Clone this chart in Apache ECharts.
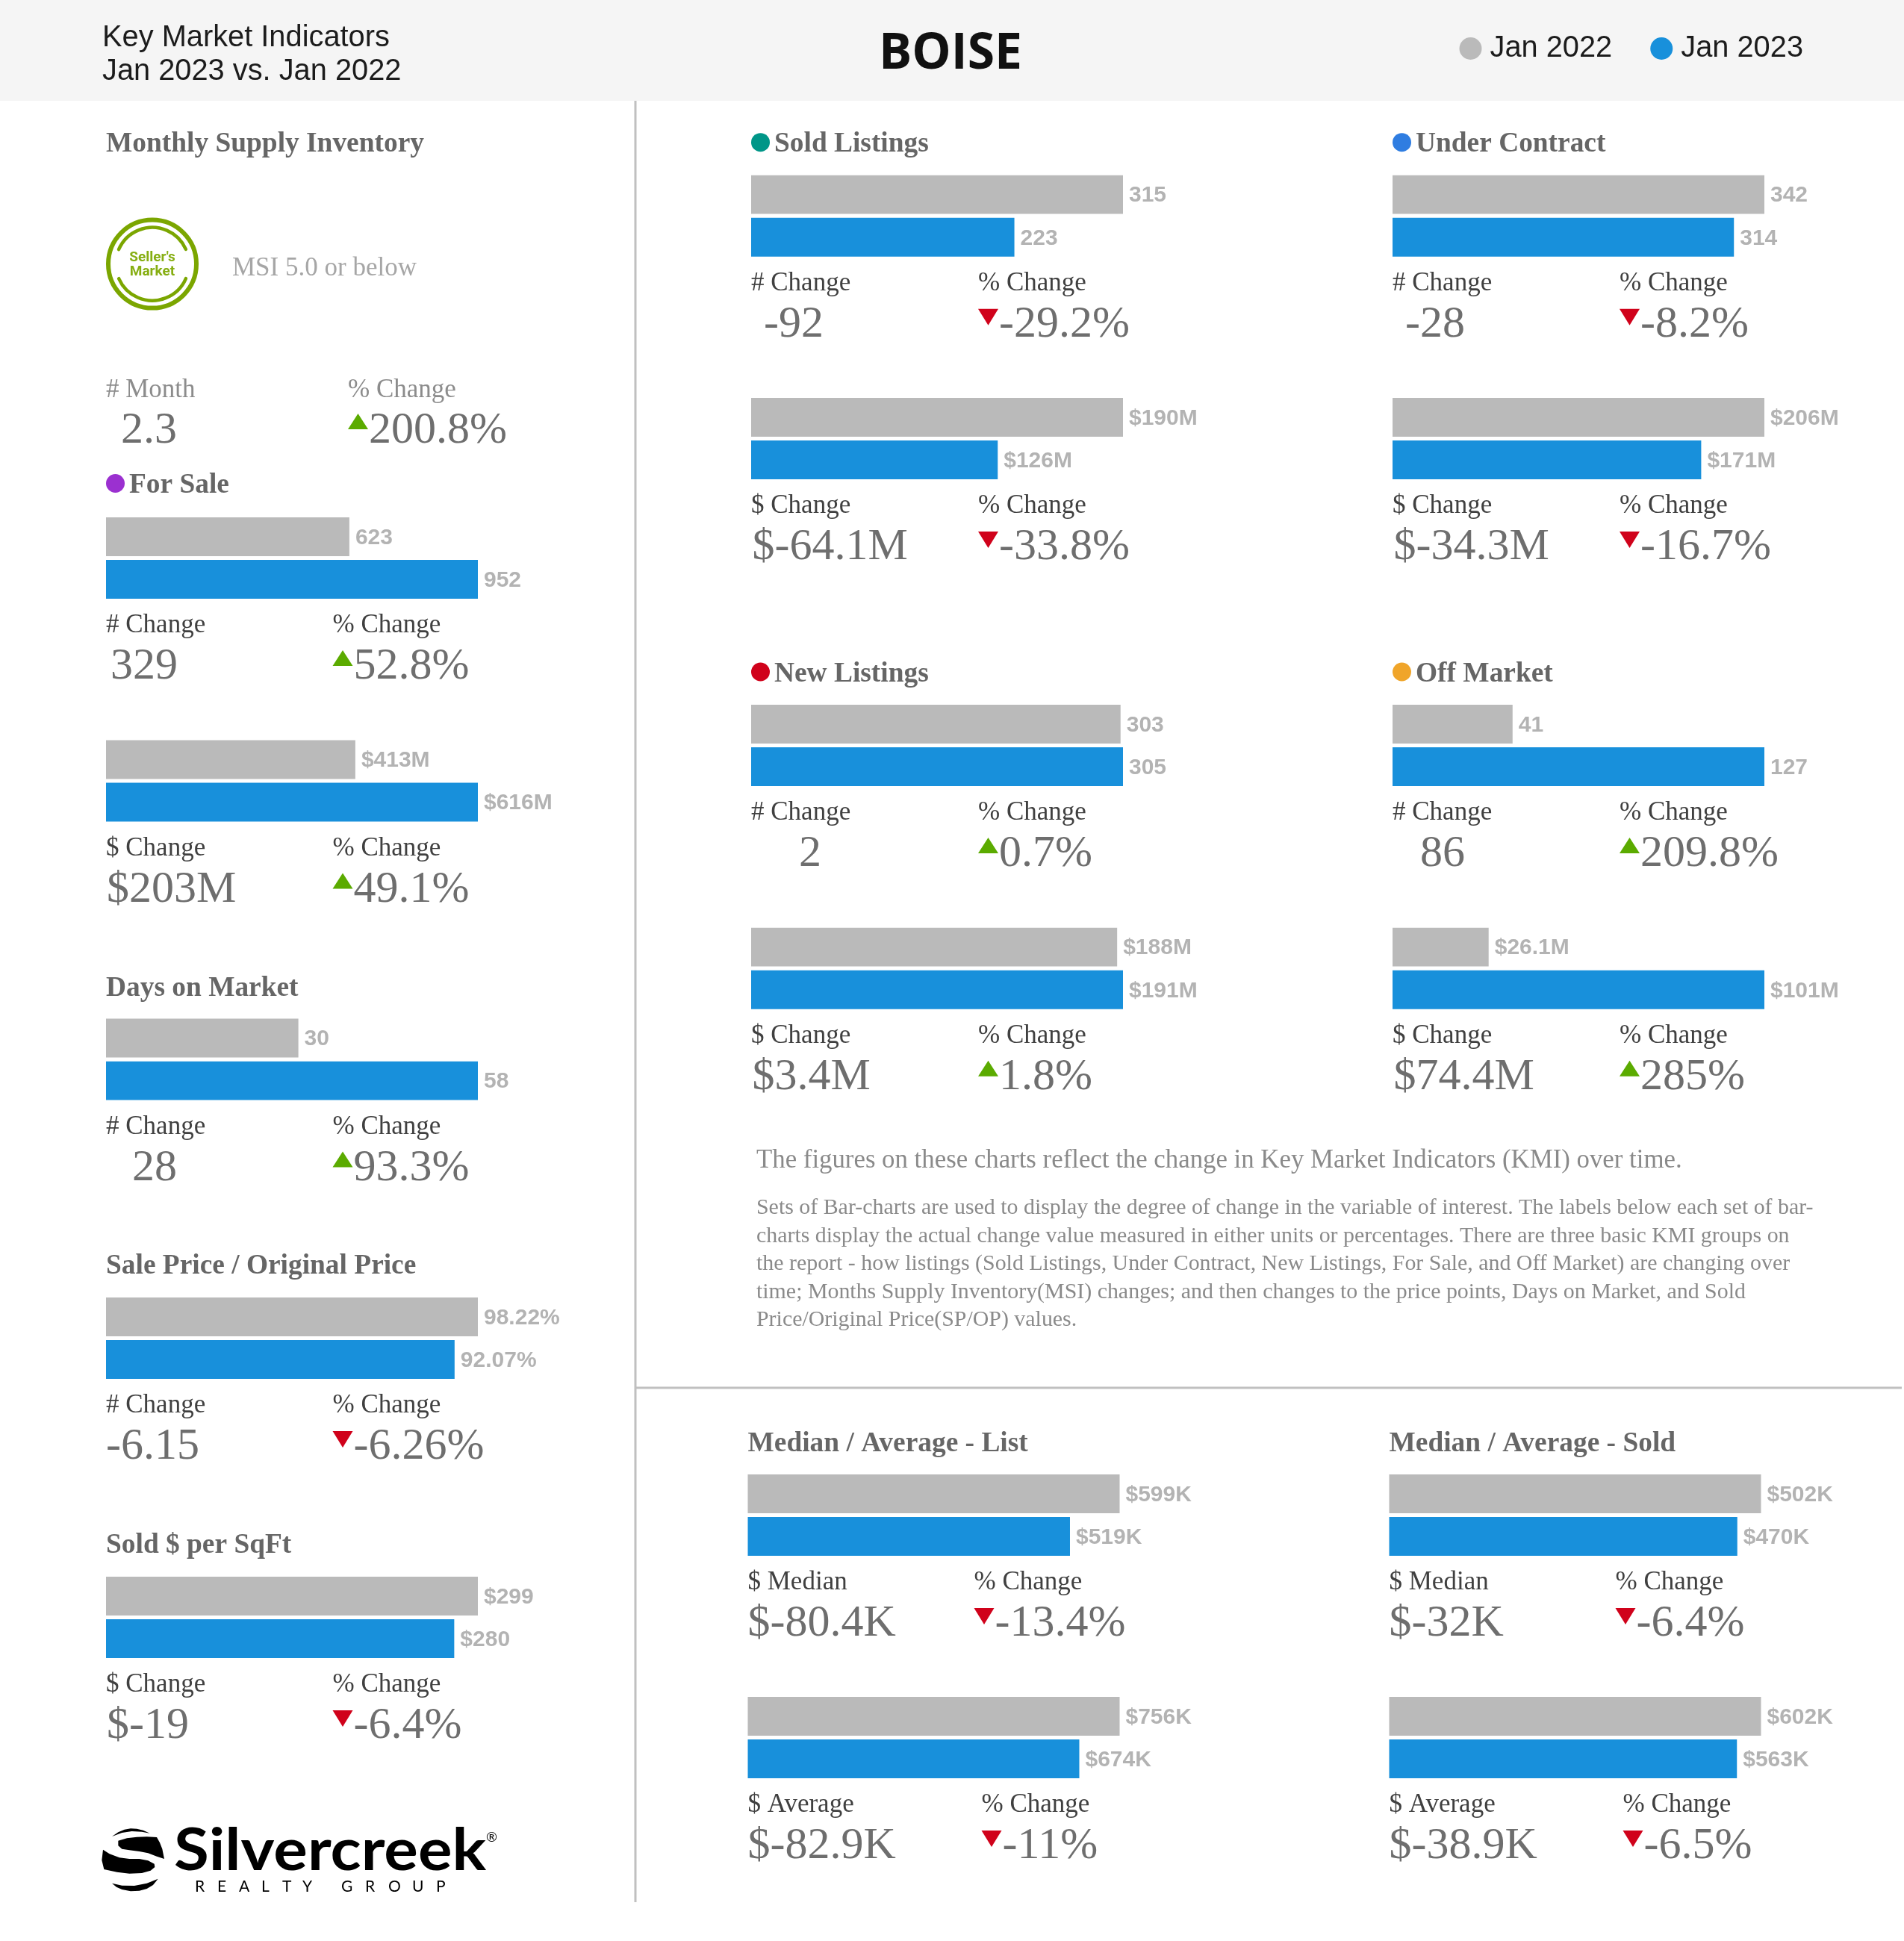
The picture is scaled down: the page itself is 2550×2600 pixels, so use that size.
<!DOCTYPE html>
<html>
<head>
<meta charset="utf-8">
<title>BOISE Key Market Indicators</title>
<script src="https://cdn.jsdelivr.net/npm/echarts@6/dist/echarts.min.js"></script>
<style>html,body{margin:0;padding:0;background:#fff}#c{width:2550px;height:2600px}</style>
</head>
<body>
<div id="c"></div>
<script>
// ---------- data ----------
const years = ['Jan 2022', 'Jan 2023'];
const metricNames = ['For Sale #','For Sale $','Days on Market','Sale Price / Original Price','Sold $ per SqFt','Sold Listings #','Sold Listings $','Under Contract #','Under Contract $','New Listings #','New Listings $','Off Market #','Off Market $','List Median','List Average','Sold Median','Sold Average'];
const jan2022 = [623,413,30,98.22,299,315,190,342,206,303,188,41,26.1,599,756,502,602];
const jan2023 = [952,616,58,92.07,280,223,126,314,171,305,191,127,101,519,674,470,563];
const valuePrefix = ['','$','','','$','','$','','$','','$','','$','$','$','$','$'];
const valueSuffix = ['','M','','%','','','M','','M','','M','','M','K','K','K','K'];
const changeCaptions = ['# Change','$ Change','# Change','# Change','$ Change','# Change','$ Change','# Change','$ Change','# Change','$ Change','# Change','$ Change','$ Median','$ Average','$ Median','$ Average'];
const changeValues = ['329','$203M','28','-6.15','$-19','-92','$-64.1M','-28','$-34.3M','2','$3.4M','86','$74.4M','$-80.4K','$-82.9K','$-32K','$-38.9K'];
const percentValues = ['52.8%','49.1%','93.3%','-6.26%','-6.4%','-29.2%','-33.8%','-8.2%','-16.7%','0.7%','1.8%','209.8%','285%','-13.4%','-11%','-6.4%','-6.5%'];
const headings = ['Sold Listings','Under Contract','New Listings','Off Market','For Sale','Days on Market','Sale Price / Original Price','Sold $ per SqFt','Median / Average - List','Median / Average - Sold','Monthly Supply Inventory'];
const msiMonths = '2.3';
const msiChange = '200.8%';

// ---------- layout (pixels) ----------
const panelX = [142,142,142,142,142,1006,1006,1865,1865,1006,1006,1865,1865,1001.5,1001.5,1860.5,1860.5];
const panelY = [693,991.5,1364.6,1738,2112,234.7,533,234.7,533,944,1242.7,944,1242.7,1975,2273,1975,2273];
const valueIndent = [6,1,35,0,1,17,1.5,17,1.5,64,1.5,37,1.5,0,0,0,0];
const percentOffset = [303.5,303.5,303.5,303.5,303.5,304,304,304,304,304,304,304,304,303,313,303,313];
const headingPos = [
 [1006,190.7,'#009688'],[1865,190.7,'#2f7de1'],[1006,900,'#d0021b'],[1865,900,'#f0a52a'],[142,647.5,'#9b30d0'],
 [142,1321],[142,1693],[142,2067.5],[1001.5,1931.5],[1860.5,1931.5],[142,190.7]
];
const SERIF = '"Liberation Serif"', SANS = '"Liberation Sans"';
const GREY_BAR = '#bababa', BLUE_BAR = '#1890db';
const BAR_W = 498, BAR_H = 109;

const g = [];
function T(text, x, y, size, fill, opt) {
  opt = opt || {};
  g.push({type:'text', silent:true, z:opt.z||5, style:{text, x, y: y+(opt.dy===undefined?3:opt.dy), fill,
    font:(opt.weight||'normal')+' '+size+'px '+(opt.family||SERIF),
    textAlign:opt.align||'left', textVerticalAlign:'middle'}});
}
function tri(x, y, up) {
  const pts = up ? [[x,y+21],[x+27,y+21],[x+13.5,y]] : [[x,y],[x+27,y],[x+13.5,y+22]];
  g.push({type:'polygon', silent:true, z:5, shape:{points:pts}, style:{fill: up ? '#5bab00' : '#d0021b'}});
}
function dot(x, y, r, fill) { g.push({type:'circle', silent:true, z:5, shape:{cx:x,cy:y,r}, style:{fill}}); }

// header band + dividers
g.push({type:'rect', silent:true, z:0, shape:{x:0,y:0,width:2550,height:135}, style:{fill:'#f5f5f5'}});
g.push({type:'rect', silent:true, z:1, shape:{x:849.5,y:135,width:3,height:2413}, style:{fill:'#c0c0c0'}});
g.push({type:'rect', silent:true, z:1, shape:{x:851,y:1857.5,width:1696,height:3}, style:{fill:'#c0c0c0'}});
T('Key Market Indicators',137,48,39.8,'#1c1c1c',{family:SANS});
T('Jan 2023 vs. Jan 2022',137,93,39.8,'#1c1c1c',{family:SANS});
T('BOISE',1273,68,66,'#111111',{family:'"Open Sans"',weight:'bold',align:'center',dy:5});

// headings
headings.forEach((h,i)=>{
  const p = headingPos[i];
  if (p[2]) { dot(p[0]+12.5,p[1],12.5,p[2]); T(h,p[0]+31,p[1],37.4,'#666666',{weight:'bold'}); }
  else T(h,p[0],p[1],37.4,'#666666',{weight:'bold'});
});

// seller's market badge
const BADGE = '#7ba600';
g.push({type:'circle',silent:true,z:5,shape:{cx:204,cy:353.6,r:59},style:{fill:'none',stroke:BADGE,lineWidth:6}});
g.push({type:'arc',silent:true,z:5,shape:{cx:204,cy:353.6,r:49,startAngle:3.55,endAngle:5.87,clockwise:true},style:{fill:'none',stroke:BADGE,lineWidth:4.5,lineCap:'round'}});
g.push({type:'arc',silent:true,z:5,shape:{cx:204,cy:353.6,r:49,startAngle:0.41,endAngle:2.73,clockwise:true},style:{fill:'none',stroke:BADGE,lineWidth:4.5,lineCap:'round'}});
T("Seller's",204,342,19,'#86ae12',{family:'Roboto',weight:'bold',align:'center'});
T('Market',204,361,19,'#86ae12',{family:'Roboto',weight:'bold',align:'center'});
T('MSI 5.0 or below',311,357,35,'#a6a6a6');

// MSI figures
T('# Month',142,519.5,35,'#8c8c8c');
T('% Change',466,519.5,35,'#8c8c8c');
T(msiMonths,162,574,60,'#6e6e6e');
tri(466,554,true);
T(msiChange,494,574,60,'#6e6e6e');

// explanatory text
T('The figures on these charts reflect the change in Key Market Indicators (KMI) over time.',1013,1552,34.8,'#8a8a8a');
['Sets of Bar-charts are used to display the degree of change in the variable of interest. The labels below each set of bar-',
 'charts display the actual change value measured in either units or percentages. There are three basic KMI groups on',
 'the report - how listings (Sold Listings, Under Contract, New Listings, For Sale, and Off Market) are changing over',
 'time; Months Supply Inventory(MSI) changes; and then changes to the price points, Days on Market, and Sold',
 'Price/Original Price(SP/OP) values.'].forEach((s,i)=>T(s,1013,1615.5+i*37.4,29.9,'#8a8a8a'));

// logo
[
 [[60,75],[85,58],[110,47],[135,43],[160,44],[185,50],[212,62],[180,56],[140,54],[100,60]],
 [[85,92],[120,82],[160,77],[200,76],[240,78],[252,100],[262,125],[270,165],[240,155],[205,142],[170,135],[130,130],[100,125],[85,112]],
 [[24,128],[50,145],[90,160],[130,165],[170,165],[205,172],[230,185],[232,198],[215,212],[180,222],[130,224],[80,218],[28,207],[19,170]],
 [[60,263],[100,272],[150,273],[200,263],[245,245],[225,270],[200,285],[170,293],[135,295],[100,288],[78,278]]
].forEach(poly=>{
  g.push({type:'polygon',silent:true,z:5,shape:{points:poly.map(p=>[130+p[0]/3,2435+p[1]/3])},style:{fill:'#000'}});
});
g.push({type:'text',silent:true,z:5,x:233,y:2480,scaleX:1.095,scaleY:1,style:{text:'Silvercreek',x:0,y:0,fill:'#000',
  font:'bold 78px Lato',textAlign:'left',textVerticalAlign:'middle'}});
T('\u00AE',651,2461,18,'#000',{family:'Lato',dy:0});
'REALTYGROUP'.split('').forEach((ch,i)=>{
  T(ch,[261,291,320,350,378,405,457,489,520,552,584][i],2527,21,'#000',{family:'Lato',dy:0});
});

// panels
metricNames.forEach((m,i)=>{
  const x=panelX[i], y=panelY[i], b=y+BAR_H, po=x+percentOffset[i];
  T(changeCaptions[i],x,b+33,35,'#404040');
  T('% Change',po,b+33,35,'#404040');
  T(changeValues[i],x+valueIndent[i],b+88.5,60,'#6e6e6e');
  const up = percentValues[i][0] !== '-';
  tri(po, b+(up?69:70), up);
  T(percentValues[i],po+28,b+88.5,60,'#6e6e6e');
});

const grids=[], xAxes=[], yAxes=[], series=[];
metricNames.forEach((m,i)=>{
  grids.push({left:panelX[i],top:panelY[i],width:BAR_W,height:BAR_H,containLabel:false});
  xAxes.push({gridIndex:i,type:'value',min:0,max:Math.max(jan2022[i],jan2023[i]),show:false});
  yAxes.push({gridIndex:i,type:'category',data:[m],inverse:true,show:false});
  [[years[0],jan2022,GREY_BAR],[years[1],jan2023,BLUE_BAR]].forEach(s=>{
    series.push({name:s[0],type:'bar',xAxisIndex:i,yAxisIndex:i,data:[s[1][i]],barWidth:52,barGap:'10%',
      itemStyle:{color:s[2]},
      label:{show:true,position:'right',distance:8,offset:[0,1.5],color:'#b3b3b3',fontFamily:SANS,fontWeight:'bold',fontSize:30,
        formatter:p=>valuePrefix[i]+p.value+valueSuffix[i]}});
  });
});

const chart = echarts.init(document.getElementById('c'));
chart.setOption({
  animation:false,
  backgroundColor:'#fff',
  legend:{data:years,left:1949.5,top:40,itemWidth:30,itemHeight:30,itemGap:51,icon:'circle',
    textStyle:{fontFamily:SANS,fontSize:39.8,color:'#1c1c1c',padding:[0,0,6,6]}},
  tooltip:{show:false},
  grid:grids,xAxis:xAxes,yAxis:yAxes,series,
  graphic:{elements:g}
});
</script>
</body>
</html>
